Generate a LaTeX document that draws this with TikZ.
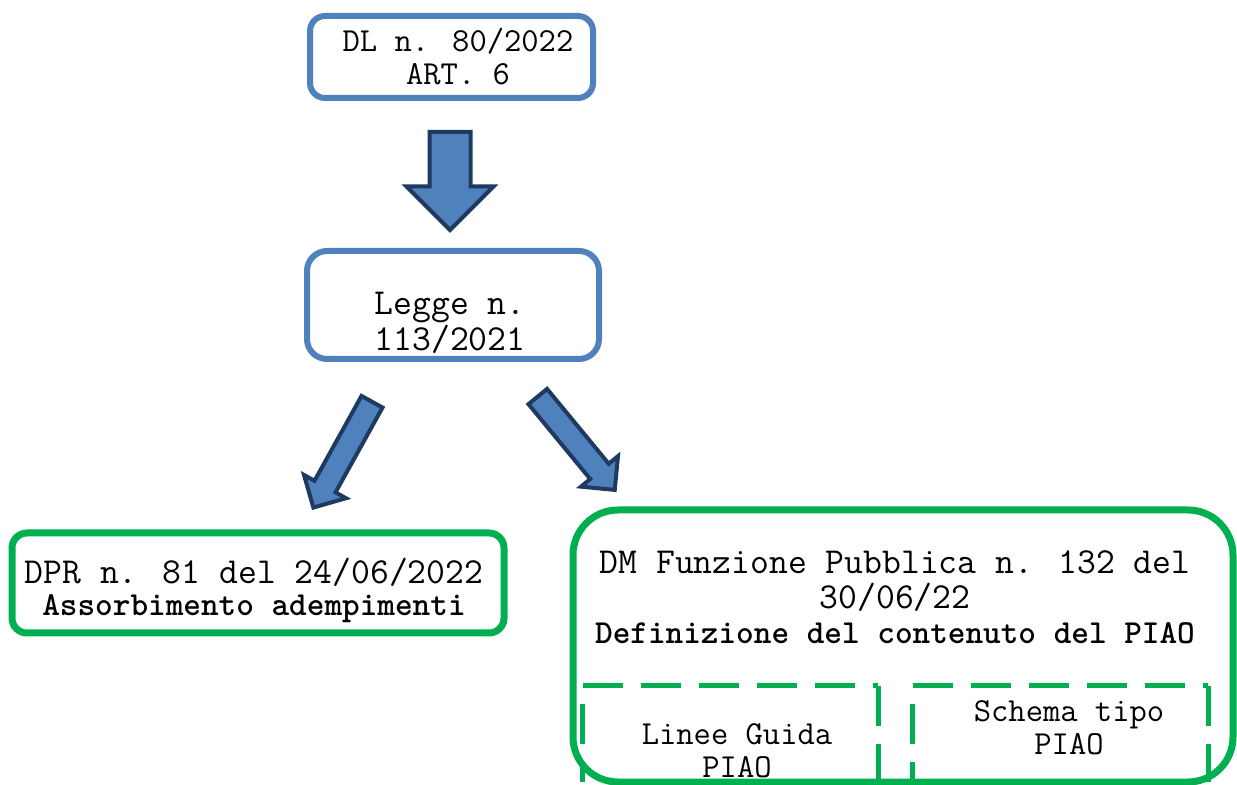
\documentclass[tikz,border=0pt]{standalone}
\usepackage{fontspec}
\usetikzlibrary{shapes.arrows}
\definecolor{boxblue}{HTML}{4F81BD}
\definecolor{arrowline}{HTML}{1F3A60}
\definecolor{boxgreen}{HTML}{00B050}

\begin{document}
\begin{tikzpicture}[x=0.5pt, y=-0.5pt,
  bluebox/.style={rectangle, draw=boxblue, line width=3pt, inner sep=0pt},
  greenbox/.style={rectangle, draw=boxgreen, line width=3.5pt, inner sep=0pt},
  txt/.style={align=center, inner sep=0pt},
  fatarrow/.style={single arrow, draw=arrowline, fill=boxblue, line width=2pt, inner xsep=0pt, anchor=tail},
  guide/.style={draw=boxgreen, line width=2.5pt, dash pattern=on 20pt off 9pt}]
\useasboundingbox (0,0) rectangle (1237,785);
%%%%%%%%%%%%%%%%%%%
\node[bluebox, rounded corners=7.5pt, minimum width=141.5pt, minimum height=41pt] (dl) at (451.5,57) {};
\node[bluebox, rounded corners=10pt, minimum width=146pt, minimum height=54pt] (legge) at (453,305) {};
\node[greenbox, rounded corners=7.5pt, minimum width=246pt, minimum height=50pt] (dpr) at (258,583) {};
\node[greenbox, rounded corners=22.5pt, minimum width=330pt, minimum height=136pt] (dm) at (903,646) {};
\node[minimum width=147.5pt, minimum height=48pt, inner sep=0pt] (guida) at (730.5,734) {};
\node[minimum width=147.5pt, minimum height=48pt, inner sep=0pt] (schema) at (1060.5,734) {};

%%%%%%%%%%%%%%%%%%%
\node[txt, font=\ttfamily\fontsize{16.8}{16.5}\selectfont] (dltxt) at (458,57) {DL n. 80/2022\\ART. 6};
\node[txt, font=\ttfamily\fontsize{18.3}{18}\selectfont] (leggetxt) at (450,323) {Legge n.\\113/2021};
\node[txt, font=\ttfamily\fontsize{18.3}{16}\selectfont] (dprtxt) at (254,590) {DPR n. 81 del 24/06/2022\\{\bfseries\fontsize{16.8}{16}\selectfont Assorbimento adempimenti}};
\node[txt, font=\ttfamily\fontsize{18.3}{17.5}\selectfont] (dmtxt) at (895,597) {DM Funzione Pubblica n. 132 del\\30/06/22\\{\bfseries\fontsize{16.8}{17.5}\selectfont Definizione del contenuto del PIAO}};
\node[txt, font=\ttfamily\fontsize{16.8}{16.5}\selectfont] (guidatxt) at (737,751) {Linee Guida\\PIAO};
\node[txt, font=\ttfamily\fontsize{16.8}{16.5}\selectfont] (schematxt) at (1069,728) {Schema tipo\\PIAO};

%%%%%%%%%%%%%%%%%%%
\draw[guide] (guida.north west) -- (guida.north east);
\draw[guide] (guida.north east) -- (guida.south east);
\draw[guide, dash phase=20pt] (guida.north west) -- (guida.south west);
\draw[guide] (schema.north west) -- (schema.north east);
\draw[guide] (schema.north east) -- (schema.south east);
\draw[guide, dash phase=20pt] (schema.north west) -- (schema.south west);

%%%%%%%%%%%%%%%%%%%
\node[fatarrow, rotate=-90, inner ysep=9.25pt, minimum height=49pt, single arrow head extend=11.5pt] (down) at (450,130) {};
\node[fatarrow, rotate=-119, inner ysep=5pt, minimum height=60.5pt, single arrow head extend=6pt] (toleft) at (373,400) {};
\node[fatarrow, rotate=-50.5, inner ysep=5pt, minimum height=60.5pt, single arrow head extend=6pt] (toright) at (536.5,395) {};
\end{tikzpicture}
\end{document}
